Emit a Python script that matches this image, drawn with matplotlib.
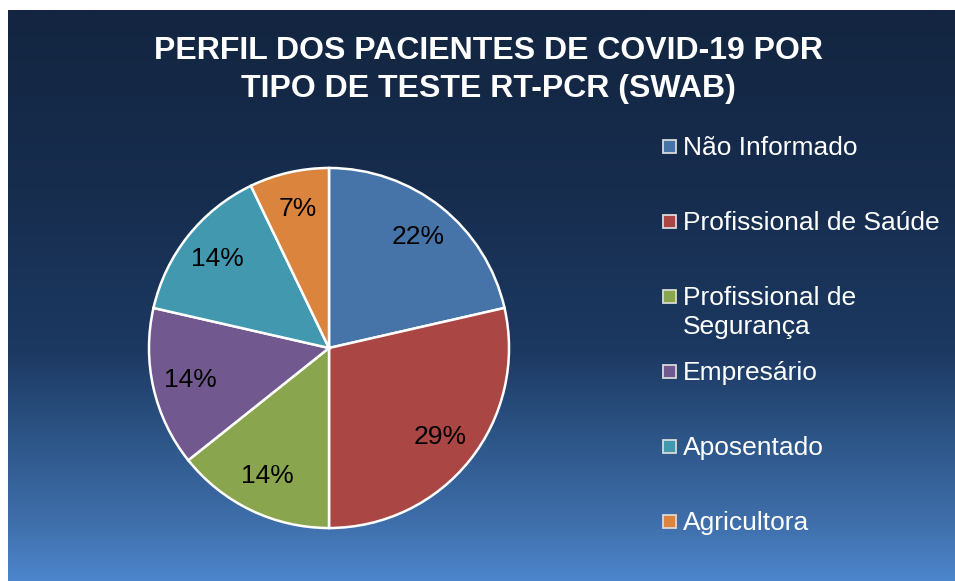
import numpy as np
import matplotlib
matplotlib.use("Agg")
import matplotlib.pyplot as plt
from matplotlib.colors import LinearSegmentedColormap
from matplotlib.patches import Rectangle

plt.rcParams['font.family'] = ['Liberation Sans', 'DejaVu Sans']

# dados
categorias = ['Não Informado', 'Profissional de Saúde', 'Profissional de\nSegurança',
              'Empresário', 'Aposentado', 'Agricultora']
pacientes = [3, 4, 2, 2, 2, 1]
rotulos = ['22%', '29%', '14%', '14%', '14%', '7%']
cores = ['#4673a8', '#aa4644', '#89a54e', '#71588f', '#4198af', '#db843d']

W, H = 955, 581
fig = plt.figure(figsize=(W / 100, H / 100), dpi=100, facecolor='white')

# fundo em degrade
bg = fig.add_axes([8 / W, 0, (W - 8) / W, (H - 10) / H])
cmap = LinearSegmentedColormap.from_list('fundo', [
    (0.0, '#132540'), (0.35, '#172e50'), (0.6, '#1c3962'),
    (0.75, '#2d5587'), (0.9, '#3f6fab'), (1.0, '#4d86cc')])
grad = np.linspace(0, 1, 256).reshape(-1, 1)
bg.imshow(grad, aspect='auto', cmap=cmap, extent=[0, 1, 0, 1], origin='upper')
bg.set_axis_off()

# titulo
fig.text(488 / W, 1 - 70 / H, 'PERFIL DOS PACIENTES DE COVID-19 POR\nTIPO DE TESTE RT-PCR (SWAB)',
         ha='center', va='center', color='white', fontsize=23, fontweight='bold',
         linespacing=1.38)

# pizza
cx, cy, r = 329, 348, 180
ax = fig.add_axes([(cx - r - 2) / W, (H - cy - r - 2) / H, (2 * r + 4) / W, (2 * r + 4) / H])
wedges, _ = ax.pie(pacientes, colors=cores, startangle=90, counterclock=False,
                   wedgeprops=dict(edgecolor='white', linewidth=1.8))
ax.set_xlim(-1.011, 1.011)
ax.set_ylim(-1.011, 1.011)
ax.set_aspect('equal')
ang0 = 90
tot = sum(pacientes)
for v, lab in zip(pacientes, rotulos):
    ang = ang0 - 360 * v / tot / 2
    ang0 -= 360 * v / tot
    x = 0.79 * np.cos(np.radians(ang))
    y = 0.79 * np.sin(np.radians(ang))
    ax.text(x, y, lab, ha='center', va='center', fontsize=19, color='black')

# legenda
ys = [146, 221, 296, 371, 446, 521]
for cat, cor, yy in zip(categorias, cores, ys):
    fig.patches.append(Rectangle((663 / W, 1 - (yy + 7) / H), 13 / W, 13 / H,
                                 transform=fig.transFigure, facecolor=cor,
                                 edgecolor='#d9d9d9', linewidth=1.3))
    fig.text(683 / W, 1 - (yy - 10) / H, cat, ha='left', va='top', color='white',
             fontsize=19, linespacing=1.25)

fig.savefig('out.png', dpi=100, facecolor='white')
